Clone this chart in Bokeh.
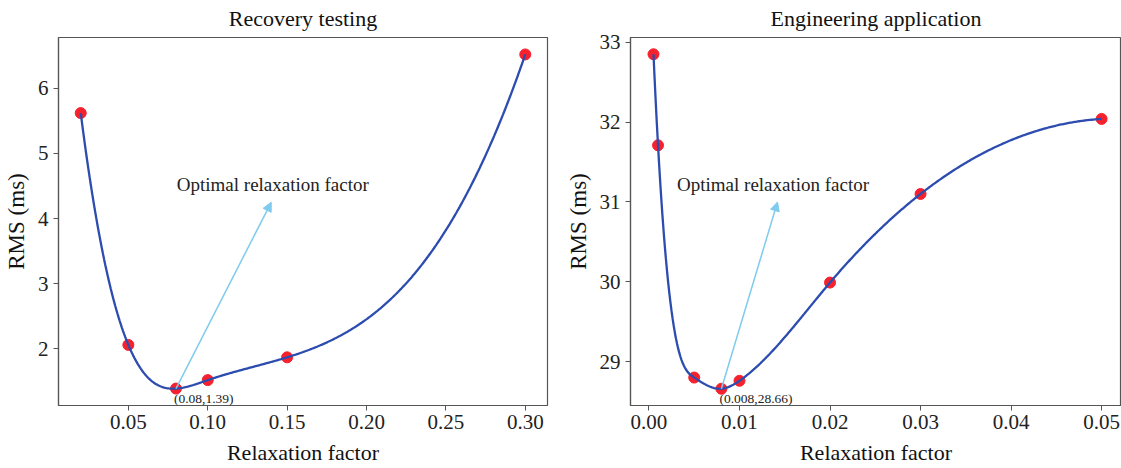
import numpy as np
from bokeh.plotting import figure
from bokeh.layouts import row
from bokeh.models import Range1d, FixedTicker, Arrow, NormalHead, Label
from bokeh.embed import file_html
from bokeh.resources import INLINE

# ---- data ----
rec_x = [0.02, 0.05, 0.08, 0.10, 0.15, 0.30]
rec_y = [5.62, 2.06, 1.39, 1.52, 1.87, 6.52]
rec_xticks = [0.05, 0.10, 0.15, 0.20, 0.25, 0.30]
rec_yticks = [2, 3, 4, 5, 6]

eng_x = [0.0005, 0.001, 0.005, 0.008, 0.01, 0.02, 0.03, 0.05]
eng_y = [32.85, 31.71, 28.80, 28.66, 28.76, 29.99, 31.10, 32.04]
eng_xticks = [0.00, 0.01, 0.02, 0.03, 0.04, 0.05]
eng_yticks = [29, 30, 31, 32, 33]

FONT = "Liberation Serif"
BLUE = "#2c4caf"
RED = "#f5222d"
ARROW = "#7fcbed"


def spline_curve(x, y, n=400):
    """not-a-knot cubic spline through the given points"""
    x = np.asarray(x, float)
    y = np.asarray(y, float)
    m = len(x)
    h = np.diff(x)
    A = np.zeros((m, m))
    b = np.zeros(m)
    A[0, 0], A[0, 1], A[0, 2] = h[1], -(h[0] + h[1]), h[0]
    A[-1, -3], A[-1, -2], A[-1, -1] = h[-1], -(h[-2] + h[-1]), h[-2]
    for i in range(1, m - 1):
        A[i, i - 1] = h[i - 1]
        A[i, i] = 2 * (h[i - 1] + h[i])
        A[i, i + 1] = h[i]
        b[i] = 6 * ((y[i + 1] - y[i]) / h[i] - (y[i] - y[i - 1]) / h[i - 1])
    M = np.linalg.solve(A, b)
    xs = np.linspace(x[0], x[-1], n)
    idx = np.clip(np.searchsorted(x, xs) - 1, 0, m - 2)
    x0, x1 = x[idx], x[idx + 1]
    hh = x1 - x0
    ys = (M[idx] * (x1 - xs) ** 3 / (6 * hh) + M[idx + 1] * (xs - x0) ** 3 / (6 * hh)
          + (y[idx] / hh - M[idx] * hh / 6) * (x1 - xs)
          + (y[idx + 1] / hh - M[idx + 1] * hh / 6) * (xs - x0))
    return xs, ys


def make_panel(title, xs, ys, xr, yr, xticks, yticks, width, bl, br, fmt_x,
               ann_text_xy, arrow_end, opt_idx, opt_label):
    p = figure(width=width, height=468, x_range=Range1d(*xr), y_range=Range1d(*yr),
               output_backend="svg", toolbar_location=None,
               min_border_left=bl, min_border_right=br, min_border_top=37, min_border_bottom=63,
               title=title)
    p.title.text_font = FONT
    p.title.text_font_size = "22px"
    p.title.text_font_style = "normal"
    p.title.align = "center"
    p.title.vertical_align = "top"
    p.title.text_color = "#111111"
    p.title.standoff = 10
    p.grid.visible = False
    p.outline_line_color = "#555555"
    p.outline_line_width = 1.2
    p.background_fill_color = "white"
    p.border_fill_color = "white"

    for ax in (p.xaxis[0], p.yaxis[0]):
        ax.axis_line_color = "#555555"
        ax.axis_line_width = 1.2
        ax.major_tick_line_color = "#555555"
        ax.major_tick_in = 0
        ax.major_tick_out = 5
        ax.minor_tick_line_color = None
        ax.major_label_text_font = FONT
        ax.major_label_text_font_size = "21px"
        ax.major_label_text_color = "#222222"
        ax.axis_label_text_font = FONT
        ax.axis_label_text_font_style = "normal"
        ax.axis_label_text_color = "#111111"
    p.xaxis[0].axis_label_text_font_size = "22px"
    p.yaxis[0].axis_label_text_font_size = "23px"

    p.xaxis[0].ticker = FixedTicker(ticks=xticks)
    p.xaxis[0].major_label_overrides = {t: fmt_x.format(t) for t in xticks}
    p.yaxis[0].ticker = FixedTicker(ticks=yticks)
    p.yaxis[0].major_label_overrides = {t: str(t) for t in yticks}
    p.xaxis[0].axis_label = "Relaxation factor"
    p.yaxis[0].axis_label = "RMS (ms)"
    p.xaxis[0].major_label_standoff = 4
    p.yaxis[0].major_label_standoff = 5
    p.xaxis[0].axis_label_standoff = 8
    p.yaxis[0].axis_label_standoff = 6

    cx, cy = spline_curve(xs, ys)
    p.scatter(xs, ys, size=11, color=RED, line_color=RED)
    p.line(cx, cy, line_color=BLUE, line_width=2.3)

    ox, oy = xs[opt_idx], ys[opt_idx]
    p.add_layout(Arrow(end=NormalHead(size=9, fill_color=ARROW, line_color=ARROW),
                       x_start=ox, y_start=oy, x_end=arrow_end[0], y_end=arrow_end[1],
                       line_color=ARROW, line_width=1.5))
    p.add_layout(Label(x=ann_text_xy[0], y=ann_text_xy[1], text="Optimal relaxation factor",
                       text_font=FONT, text_font_size="19px", text_color="#222222",
                       text_baseline="middle", text_align="left"))
    p.add_layout(Label(x=ox, y=oy, text=opt_label, text_font=FONT, text_font_size="13.5px",
                       text_color="#222222", text_baseline="top", text_align="left",
                       x_offset=-2, y_offset=-2))
    return p


p1 = make_panel("Recovery testing", rec_x, rec_y, (0.006, 0.314), (1.13, 6.78),
                rec_xticks, rec_yticks, 562, 58, 15, "{:.2f}",
                (0.0805, 4.52), (0.14, 4.25), 2, "(0.08,1.39)")
p2 = make_panel("Engineering application", eng_x, eng_y, (-0.00204, 0.0522), (28.45, 33.06),
                eng_xticks, eng_yticks, 559, 67, 0, "{:.2f}",
                (0.0031, 31.22), (0.0142, 31.0), 3, "(0.008,28.66)")

layout = row(p1, p2)
open("out.html", "w").write(file_html(layout, INLINE))
